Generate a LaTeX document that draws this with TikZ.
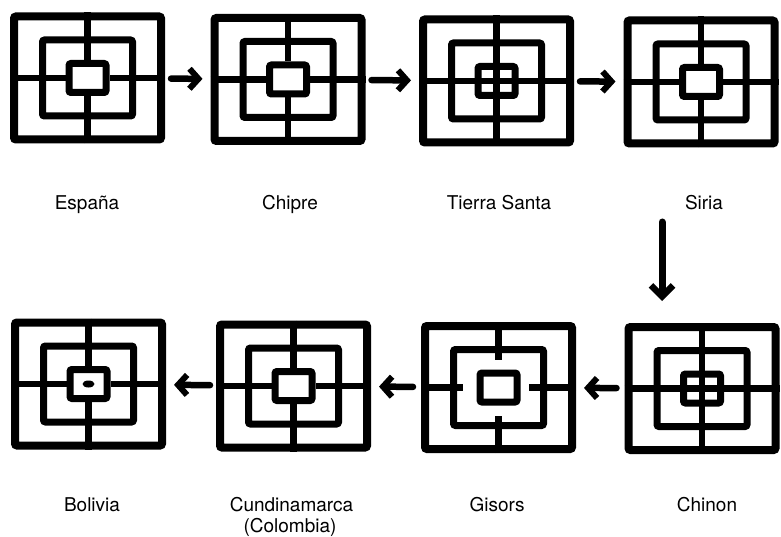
\documentclass[tikz,border=0pt]{standalone}
\usepackage{fontspec}
\setmainfont{TeX Gyre Heros}
\usetikzlibrary{arrows.meta}
\usetikzlibrary{calc}

\begin{document}
\begin{tikzpicture}[x=1pt, y=-1pt,
  marco/.style={draw, line width=8pt, rounded corners=2pt, minimum width=147pt,
    minimum height=123pt, inner sep=0pt, outer sep=4pt},
  medio/.style={draw, line width=7pt, rounded corners=2pt, minimum width=90pt,
    minimum height=76pt, inner sep=0pt, outer sep=3.5pt},
  nucleo/.style={draw, line width=7pt, rounded corners=2pt, minimum width=37pt,
    minimum height=29pt, inner sep=0pt, outer sep=3.5pt},
  cruz/.style={line width=6.5pt},
  flecha/.style={line width=6.5pt, line cap=round,
    -{Straight Barb[length=9pt,width=20pt,line width=6pt]}},
  rotulo/.style={anchor=base, inner sep=0pt, font=\fontsize{19}{22}\selectfont}]
  \useasboundingbox (0,0) rectangle (781,537);

  % marcos
  \foreach \n/\x/\y in {espana/87.5/78, chipre/288/79.5, tierrasanta/496.5/81,
      siria/701/82, bolivia/88.5/384, cundinamarca/293.5/386,
      gisors/498.5/387.5, chinon/702/388.5}{
    \node[marco] (\n) at (\x,\y) {};
    \node[medio] (\n-m) at (\n) {};
    \node[nucleo] (\n-c) at (\n) {};
  }

  % cruz cortada en el centro
  \foreach \n in {espana,chipre,siria,bolivia,cundinamarca}
    \draw[cruz] (\n.north) -- (\n-c.north) (\n.south) -- (\n-c.south)
      (\n.west) -- (\n-c.west) (\n.east) -- (\n-c.east);

  % cruz entera
  \foreach \n in {tierrasanta,chinon}
    \draw[cruz] (\n.north) -- (\n.south) (\n.west) -- (\n.east);

  % Gisors: solo trozos
  \draw[cruz] (gisors.north) -- ($(gisors-m.north)+(0,14)$)
    (gisors.south) -- ($(gisors-m.south)+(0,-13)$)
    (gisors.west) -- ($(gisors-m.west)+(13,0)$)
    (gisors.east) -- ($(gisors-m.east)+(-18,0)$);

  % Bolivia: punto
  \fill (bolivia-c) ellipse [x radius=6, y radius=3.5];

  % rótulos
  \node[rotulo] (espana-l) at (87,210) {España};
  \node[rotulo] (chipre-l) at (290,210) {Chipre};
  \node[rotulo] (tierrasanta-l) at (499,210) {Tierra Santa};
  \node[rotulo] (siria-l) at (704,210) {Siria};
  \node[rotulo] (bolivia-l) at (92,511) {Bolivia};
  \node[rotulo] (cundinamarca-l) at (291.5,511) {Cundinamarca};
  \node[rotulo] (colombia-l) at (290,532) {(Colombia)};
  \node[rotulo] (gisors-l) at (497,511) {Gisors};
  \node[rotulo] (chinon-l) at (707,511) {Chinon};

  % flechas
  \draw[flecha, shorten <=6pt, shorten >=8pt] (espana) -- (chipre);
  \draw[flecha, shorten <=6pt, shorten >=8pt] (chipre) -- (tierrasanta);
  \draw[flecha, shorten <=6pt, shorten >=8pt] (tierrasanta) -- (siria);
  \coordinate (bajada) at (662,222);
  \draw[flecha, line width=7pt, shorten >=22pt,
    -{Straight Barb[length=11pt,width=22pt,line width=6.5pt]}]
    (bajada) -- (bajada |- chinon.north);
  \draw[flecha, shorten <=8pt, shorten >=8pt] (chinon) -- (gisors);
  \draw[flecha, shorten <=8pt, shorten >=8pt] (gisors) -- (cundinamarca);
  \draw[flecha, shorten <=6pt, shorten >=8pt] (cundinamarca) -- (bolivia);
\end{tikzpicture}
\end{document}
